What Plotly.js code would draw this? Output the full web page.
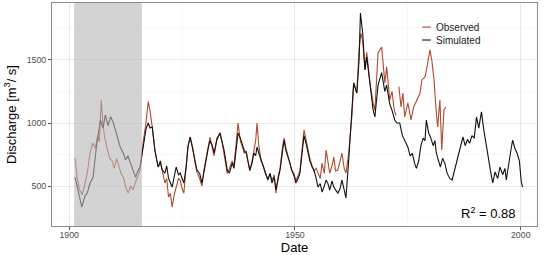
<!DOCTYPE html>
<html>
<head>
<meta charset="utf-8">
<script src="https://cdn.plot.ly/plotly-3.0.1.min.js"></script>
<style>
  html, body { margin: 0; padding: 0; background: #fff; }
  #chart { width: 550px; height: 255px; }
</style>
</head>
<body>
<div id="chart"></div>
<script>
// calibration period (grey box)
var shadeStart = 1901.1;
var shadeEnd = 1916.1;

var simYears = [1901.3,1902.0,1902.8,1903.5,1904.0,1904.6,1905.3,1906.0,1906.9,1907.5,1908.0,1908.6,1909.2,1909.8,1910.4,1911.3,1912.0,1912.5,1913.0,1913.5,1914.2,1914.7,1915.2,1915.7,
  1916.4,1917.0,1917.5,1917.9,1918.4,1919.0,1919.7,1920.2,1920.6,1921.2,1921.6,1922.0,1922.8,1923.2,1923.7,1924.2,1924.6,1925.0,1925.4,1925.9,1926.3,1926.8,1927.4,1927.9,1928.3,1928.9,1929.4,1929.9,
  1930.3,1930.8,1931.2,1931.7,1932.1,1932.7,1933.4,1933.9,1934.3,1934.7,1935.0,1935.5,1936.1,1936.5,1936.9,1937.4,1937.9,1938.3,1938.8,1939.2,1939.6,1940.0,1940.5,1940.9,1941.3,1941.6,1942.0,1942.5,
  1943.0,1943.4,1944.0,1944.5,1944.9,1945.4,1945.8,1946.3,1946.7,1947.2,1947.6,1948.0,1948.5,1948.9,1949.3,1949.8,1950.2,1950.7,1951.1,1951.6,1952.0,1952.5,1952.9,1953.3,1953.8,1954.2,1954.7,
  1955.1,1955.6,1956.0,1956.5,1956.9,1957.3,1957.7,1958.2,1958.6,1959.0,1959.5,1960.0,1960.4,1960.9,1961.3,1961.9,1962.6,1963.0,1963.7,1964.2,1964.5,1965.0,1965.5,1965.9,1966.6,1967.3,1967.7,
  1968.4,1969.2,1969.9,1970.3,1971.0,1971.5,1972.1,1972.6,1973.2,1973.8,1974.4,1975.0,1975.5,1976.0,1976.5,1976.9,1977.4,1977.9,1978.4,1978.8,1979.1,1979.6,1980.1,1980.6,1981.0,1981.3,1981.8,
  1982.2,1982.7,1983.2,1983.7,1984.3,1984.8,1985.3,1985.8,1986.3,1986.8,1987.2,1987.7,1988.2,1988.7,1989.2,1989.7,1990.2,1990.7,1991.3,1991.8,1992.3,1992.8,1993.3,1993.8,1994.3,1994.9,1995.4,
  1996.0,1996.5,1996.8,1997.3,1997.8,1998.2,1998.7,1999.2,1999.7,2000.1,2000.4];
var simulated = [571,450,333,420,444,520,571,800,1024,960,1064,980,1050,1000,920,810,760,706,740,682,620,571,620,651,
  800,950,1000,960,968,780,651,700,627,603,660,563,492,560,651,590,603,560,524,650,810,889,786,700,627,600,524,620,
  706,800,860,820,762,865,921,850,786,700,627,603,682,640,786,921,880,841,780,762,700,627,680,762,740,810,760,706,
  640,603,548,600,524,570,470,560,627,760,865,780,730,680,627,580,524,560,603,760,900,830,762,700,651,627,560,
  492,520,452,500,548,520,468,540,492,470,444,480,548,470,405,706,1048,1318,1238,1500,1873,1714,1421,1524,1318,1103,1048,
  1300,1400,1250,1300,1150,1100,1024,1000,1000,900,850,810,740,760,680,640,700,820,880,860,1024,920,880,820,860,762,700,
  651,720,680,600,560,548,620,700,760,820,889,820,870,840,900,880,1048,960,1088,950,840,700,620,524,611,560,651,
  590,640,548,680,780,865,800,760,700,540,492];

var obsYears = [1901.3,1901.8,1902.3,1902.9,1903.5,1904.0,1904.6,1905.2,1905.8,1906.3,1906.7,1907.1,1907.5,1907.9,1908.4,1909.0,1909.5,1910.0,1910.5,1911.0,1911.5,1912.1,1912.6,1913.1,1913.6,1914.1,1914.6,1915.1,1915.7,
  1916.4,1917.0,1917.5,1917.9,1918.4,1919.0,1919.7,1920.2,1920.6,1921.2,1921.6,1922.0,1922.4,1922.8,1923.2,1923.7,1924.2,1924.6,1925.0,1925.4,1925.9,1926.3,1926.8,1927.4,1927.9,1928.3,1928.9,1929.4,1929.9,
  1930.3,1930.8,1931.2,1931.7,1932.1,1932.7,1933.4,1933.9,1934.3,1934.7,1935.0,1935.5,1936.1,1936.5,1936.9,1937.4,1937.9,1938.3,1938.8,1939.2,1939.6,1940.0,1940.5,1940.9,1941.3,1941.6,1942.0,1942.5,
  1943.0,1943.4,1944.0,1944.5,1944.9,1945.4,1945.8,1946.3,1946.7,1947.2,1947.6,1948.0,1948.5,1948.9,1949.3,1949.8,1950.2,1950.7,1951.1,1951.6,1952.0,1952.5,1952.9,1953.3,1953.8,1954.2,1954.7,
  1955.1,1955.6,1956.0,1956.5,1956.9,1957.3,1957.7,1958.2,1958.6,1959.0,1959.5,1960.0,1960.4,1960.9,1961.3,1961.9,1962.6,1963.0,1963.7,1964.2,1964.6,1965.0,1965.5,1965.9,1966.6,1967.3,1967.7,
  1968.4,1969.2,1969.9,1970.3,1971.0,1971.5,1972.0,1972.4,
  1972.8,1973.0,1973.5,1973.9,1974.3,1975.0,1975.7,1976.3,1977.0,1977.7,1978.1,1978.8,1979.4,1979.9,1980.3,1980.8,1981.2,1981.6,1982.1,1982.5,1983.0,1983.4];
var observed = [720,560,470,430,520,600,760,841,800,900,850,1183,980,880,800,720,700,640,720,650,600,560,480,444,500,470,520,560,627,
  850,1000,1169,1100,968,780,651,680,627,524,560,413,440,333,420,492,560,548,480,444,620,810,889,800,680,610,560,500,640,
  720,820,889,800,740,880,921,840,760,680,600,640,700,660,800,1000,860,820,760,780,680,620,700,780,860,1000,820,700,
  660,603,560,600,540,590,444,580,640,800,880,800,740,680,620,600,540,580,620,800,945,860,780,720,660,620,640,
  603,560,682,600,786,680,603,660,730,620,627,700,762,640,603,760,1048,1318,1238,1580,1714,1650,1421,1560,1318,1160,1100,
  1556,1603,1318,1445,1183,1250,1100,1060,
  null,1290,1127,1238,1048,1159,1024,1127,1183,1238,1342,1365,1477,1580,1500,1342,1127,968,1183,786,1103,1127];

var r2Text = 'R<sup>2</sup> = 0.88';
var legendNames = ['Observed', 'Simulated'];
var obsColor = '#B04A2C';
var simColor = '#111111';

var traceObs = {
  x: obsYears, y: observed, type: 'scatter', mode: 'lines',
  name: legendNames[0], line: { color: obsColor, width: 1.1 },
  connectgaps: false, showlegend: false
};
var traceSim = {
  x: simYears, y: simulated, type: 'scatter', mode: 'lines',
  name: legendNames[1], line: { color: simColor, width: 1.1 },
  showlegend: false
};

var layout = {
  width: 550, height: 255,
  margin: { l: 52, r: 13, t: 3, b: 29 },
  paper_bgcolor: '#fff', plot_bgcolor: '#fff',
  font: { family: 'Liberation Sans, Arial, sans-serif', color: '#000' },
  xaxis: {
    range: [1896.2, 2003.6],
    tickvals: [1900, 1950, 2000],
    ticks: 'outside', ticklen: 3, tickcolor: '#555',
    ticklabelstandoff: -3,
    tickfont: { size: 8.8, color: '#4d4d4d' },
    showgrid: true, gridcolor: '#e8e8e8', gridwidth: 1,
    minor: { tickvals: [1925, 1975], showgrid: true, gridcolor: '#f3f3f3', gridwidth: 0.6 },
    showline: true, mirror: true, linecolor: '#8a8a8a', linewidth: 1,
    zeroline: false,
    title: { text: 'Date', font: { size: 13 }, standoff: 4 }
  },
  yaxis: {
    range: [183, 1952],
    tickvals: [500, 1000, 1500],
    ticks: 'outside', ticklen: 3, tickcolor: '#555',
    tickfont: { size: 8.8, color: '#4d4d4d' },
    showgrid: true, gridcolor: '#e8e8e8', gridwidth: 1,
    minor: { tickvals: [250, 750, 1250, 1750], showgrid: true, gridcolor: '#f3f3f3', gridwidth: 0.6 },
    showline: true, mirror: true, linecolor: '#8a8a8a', linewidth: 1,
    zeroline: false,
    title: { text: 'Discharge [m<sup>3</sup>/ s]', font: { size: 13 }, standoff: 7 }
  },
  shapes: [
    { type: 'rect', xref: 'x', yref: 'paper', x0: shadeStart, x1: shadeEnd, y0: 0, y1: 1,
      fillcolor: 'rgb(183,183,183)', opacity: 0.61, line: { width: 0 }, layer: 'above' },
    // hand-made legend keys
    { type: 'line', xref: 'paper', yref: 'paper', x0: 0.763, x1: 0.781, y0: 0.892, y1: 0.892,
      line: { color: obsColor, width: 1.1 } },
    { type: 'line', xref: 'paper', yref: 'paper', x0: 0.763, x1: 0.781, y0: 0.834, y1: 0.834,
      line: { color: simColor, width: 1.1 } }
  ],
  annotations: [
    { xref: 'paper', yref: 'paper', x: 0.788, y: 0.892, xanchor: 'left', yanchor: 'middle',
      text: legendNames[0], showarrow: false, font: { size: 10, color: '#222' } },
    { xref: 'paper', yref: 'paper', x: 0.788, y: 0.834, xanchor: 'left', yanchor: 'middle',
      text: legendNames[1], showarrow: false, font: { size: 10, color: '#222' } },
    { xref: 'paper', yref: 'paper', x: 0.961, y: 0.058, xanchor: 'right', yanchor: 'middle',
      text: r2Text, showarrow: false, font: { size: 13, color: '#000' } }
  ]
};

Plotly.newPlot('chart', [traceObs, traceSim], layout, { displayModeBar: false, staticPlot: true });
</script>
</body>
</html>
